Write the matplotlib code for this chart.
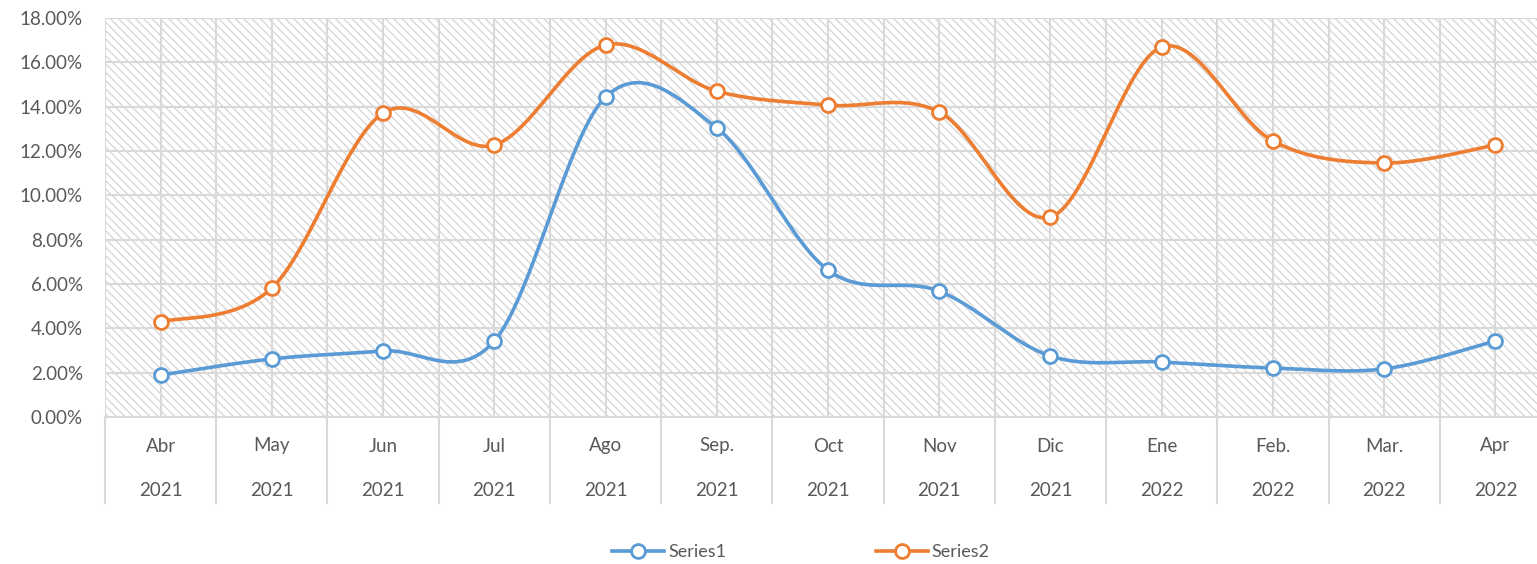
import numpy as np
import matplotlib
matplotlib.use("Agg")
import matplotlib.pyplot as plt
from matplotlib.patches import Rectangle
from matplotlib.lines import Line2D
from matplotlib.ticker import FuncFormatter, MultipleLocator
import matplotlib.transforms as mtransforms

months = ["Abr", "May", "Jun", "Jul", "Ago", "Sep.", "Oct", "Nov", "Dic", "Ene", "Feb.", "Mar.", "Apr"]
years = ["2021"] * 9 + ["2022"] * 4
series1 = [1.89, 2.62, 2.98, 3.43, 14.43, 13.04, 6.63, 5.68, 2.75, 2.48, 2.21, 2.17, 3.43]
series2 = [4.29, 5.82, 13.71, 12.27, 16.78, 14.70, 14.07, 13.76, 9.02, 16.69, 12.45, 11.46, 12.27]
series_names = ["Series1", "Series2"]
colors = ["#5B9BD5", "#ED7D31"]

plt.rcParams['font.family'] = ['Lato', 'DejaVu Sans']
plt.rcParams['hatch.linewidth'] = 0.9
plt.rcParams['hatch.color'] = '#D4D4D4'

W, H = 1537, 564
fig = plt.figure(figsize=(W / 100, H / 100), dpi=100)
left, right, bottom_px, top_px = 105, 1551, 417, 18
ax = fig.add_axes([left / W, (H - bottom_px) / H, (right - left) / W, (bottom_px - top_px) / H])

ax.set_xlim(-0.5, len(months) - 0.5)
ax.set_ylim(0, 18)
ax.set_facecolor('white')
ax.add_patch(Rectangle((0, 0), 1, 1, transform=ax.transAxes, facecolor='white',
                       edgecolor='#D4D4D4', hatch='\\\\\\\\', lw=0, zorder=0))

grid_c = '#D9D9D9'
fs = 13.5
ax.yaxis.set_major_locator(MultipleLocator(2))
ax.yaxis.set_major_formatter(FuncFormatter(lambda v, p: f"{v:.2f}%"))
ax.set_xticks(np.arange(-0.5, len(months), 0.5))
ax.tick_params(axis='x', length=0, labelbottom=False)
ax.tick_params(axis='y', length=0, labelsize=fs, labelcolor='#595959', pad=16)
ax.grid(True, color=grid_c, lw=1.5, zorder=1)
ax.set_axisbelow(True)
for s in ['top', 'right', 'left']:
    ax.spines[s].set_visible(False)
ax.spines['bottom'].set_color('#D9D9D9')
ax.spines['bottom'].set_linewidth(1.5)


def smooth(y, n=40):
    P = np.column_stack([np.arange(len(y)), np.asarray(y, float)])
    Pe = np.vstack([P[0], P, P[-1]])
    out = []
    t = np.linspace(0, 1, n)[:, None]
    for i in range(len(P) - 1):
        p0, p1, p2, p3 = Pe[i], Pe[i + 1], Pe[i + 2], Pe[i + 3]
        c1 = p1 + (p2 - p0) / 6
        c2 = p2 - (p3 - p1) / 6
        seg = (1 - t) ** 3 * p1 + 3 * (1 - t) ** 2 * t * c1 + 3 * (1 - t) * t ** 2 * c2 + t ** 3 * p2
        out.append(seg if i == 0 else seg[1:])
    return np.vstack(out)


x = np.arange(len(months))
for ys, c in zip([series1, series2], colors):
    curve = smooth(ys)
    ax.plot(curve[:, 0], curve[:, 1], color=c, lw=2.6, zorder=3, solid_capstyle='round')
    ax.plot(x, ys, ls='none', marker='o', ms=10, mfc='white', mec=c, mew=2, zorder=4)

# Category labels (two levels)
trans = mtransforms.blended_transform_factory(ax.transData, ax.transAxes)
ah = bottom_px - top_px
for i, (m, yv) in enumerate(zip(months, years)):
    ax.text(i, -29 / ah, m, transform=trans, ha='center', va='center', fontsize=fs, color='#595959')
    ax.text(i, -73 / ah, yv, transform=trans, ha='center', va='center', fontsize=fs, color='#595959')
for b in np.arange(-0.5, len(months), 1.0):
    ax.add_line(Line2D([b, b], [0, -86 / ah], transform=trans, color='#D9D9D9', lw=1.5, clip_on=False))

handles = [Line2D([], [], color=c, lw=2.6, marker='o', ms=10, mfc='white', mec=c, mew=2)
           for c in colors]
fig.legend(handles, series_names, loc='center', bbox_to_anchor=(801 / W, 12 / H), ncol=2,
           frameon=False, fontsize=13, labelcolor='#595959', handlelength=2.9,
           handletextpad=0.2, columnspacing=8.3)

fig.savefig('out.png', dpi=100)
